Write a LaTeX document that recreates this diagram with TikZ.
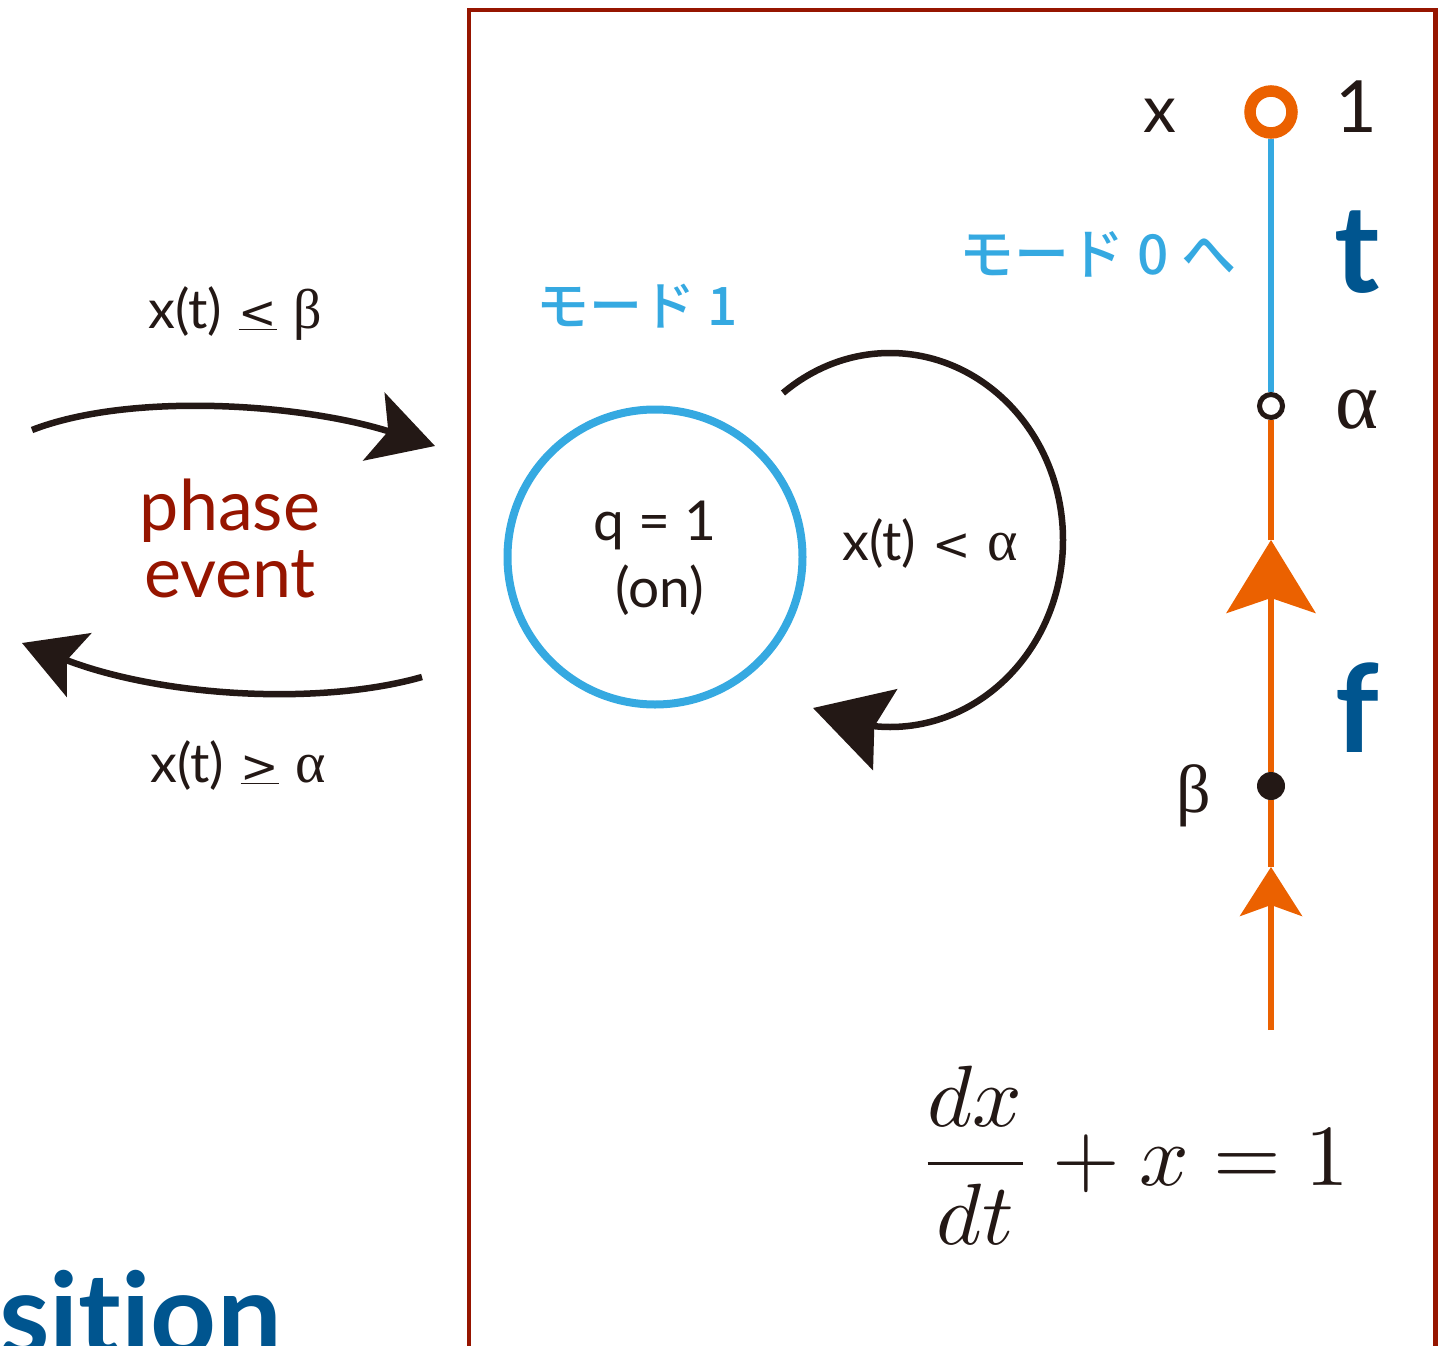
\documentclass[tikz,border=0pt]{standalone}
\usepackage{fontspec}
\setmainfont{Lato}[Ligatures=NoCommon]
\newfontfamily\cjk{Noto Sans CJK JP Medium}
\newfontfamily\tms{Liberation Serif}
\newfontfamily\dvs{DejaVu Sans}
\usetikzlibrary{arrows.meta}
\definecolor{ink}{HTML}{231815}
\definecolor{lblue}{HTML}{35A9E1}
\definecolor{dblue}{HTML}{00558F}
\definecolor{dred}{HTML}{961500}
\definecolor{orng}{HTML}{EB6100}
\newcommand{\fs}[1]{\fontsize{#1}{#1}\selectfont}
\newcommand{\uleq}{{\dvs\fs{46}\underline{<}}}
\newcommand{\ugeq}{{\dvs\fs{46}\underline{>}}}
\newcommand{\lessm}{{\dvs\fs{46}<}}
\begin{document}
\begin{tikzpicture}[x=1pt,y=-1pt,
  lbl/.style={inner sep=0pt,outer sep=0pt,anchor=base,text=ink},
  arw/.style={draw=ink,line width=6.5pt},
  orline/.style={draw=orng,line width=6pt},
  blline/.style={draw=lblue,line width=6pt},
  bigblue/.style={inner sep=0pt,anchor=base,text=dblue,font=\bfseries\fs{122}},
  jp/.style={inner sep=0pt,text=lblue,font=\cjk\fs{53}},
]
\useasboundingbox (0,0) rectangle (1449,1346);
\clip (0,0) rectangle (1449,1346);

% frame
\draw[dred,line width=4.5pt] (469,10) rectangle (1435.5,1420);

% bottom-left partial title
\node[inner sep=0pt,anchor=base east,text=dblue,font=\bfseries\fs{115}] (ttl) at (282,1355) {sition};

% left: transitions
\coordinate (ua) at (32,430);
\coordinate (ub) at (435,446);
\draw[arw,-{Stealth[length=64pt,width=71pt,inset=15pt]}] (ua) .. controls (130,392) and (300.6,403.4) .. (ub);
\coordinate (la) at (422,677);
\coordinate (lb) at (22,643);
\draw[arw,-{Stealth[length=61pt,width=68pt,inset=13pt]}] (la) .. controls (320,706) and (162,697) .. (lb);

\node[lbl,font=\fs{54}] (cup) at (235,328) {x(t)\hspace{0.3em}\uleq\hspace{0.3em}{\tms\fs{56}β}};
\node[lbl,font=\fs{54}] (clo) at (238,782) {x(t)\hspace{0.3em}\ugeq\hspace{0.3em}{\tms\fs{58}α}};
\node[lbl,text=dred,font=\fs{70}] (ph) at (230,530) {phase};
\node[lbl,text=dred,font=\fs{70}] (ev) at (230,597) {event};

% mode 1
\node[jp] (m1) at (637,306) {モード 1};
\node[circle,draw=lblue,line width=8pt,minimum size=295pt,inner sep=0pt] (q) at (655,557) {};
\node[lbl,font=\fs{55}] (q1) at (655,540) {q = 1};
\node[lbl,font=\fs{55}] (q2) at (660,607) {(on)};

% self loop
\coordinate (ls) at (783,393);
\coordinate (lt) at (813,708);
\draw[arw,-{Stealth[length=75pt,width=84pt,inset=11pt]}] (ls) .. controls (813.9,366.9) and (851.4,353) .. (890,353)
  .. controls (985.5,353) and (1063,436.7) .. (1063,540)
  .. controls (1063,643.3) and (985.5,727) .. (890,727)
  .. controls (860,727) and (848,718.5) .. (lt);
\node[lbl,font=\fs{54}] (lc) at (930,560) {x(t)\hspace{0.3em}\lessm\hspace{0.3em}{\tms\fs{58}α}};

% right axis
\node[circle,draw=orng,fill=white,line width=11.5pt,minimum size=42pt,inner sep=0pt] (o1) at (1271,112) {};
\node[circle,draw=ink,fill=white,line width=5pt,minimum size=23pt,inner sep=0pt] (oa) at (1271,406) {};
\node[circle,fill=ink,minimum size=28pt,inner sep=0pt] (ob) at (1271,786) {};
\coordinate (bot) at (1271,1030);
\coordinate (a1) at (1271,540);
\coordinate (a2) at (1271,867);
\draw[blline] (o1) -- (oa);
\draw[orline,-{Stealth[length=73pt,width=89pt,inset=15pt]}] (ob) -- (a1);
\draw[orline] (a1) -- (oa);
\draw[orline,-{Stealth[length=49pt,width=62pt,inset=11pt]}] (bot) -- (a2);
\draw[orline] (a2) -- (ob);

\node[jp,font=\cjk\fs{55}] (m0) at (1098,254) {モード 0 へ};
\node[lbl,font=\fs{66}] (lx) at (1160,132) {x};
\node[lbl,font=\fs{72}] (l1) at (1356,132) {1};
\node[bigblue] (lt1) at (1357,292) {t};
\node[lbl,font=\tms\fs{82}] (lal) at (1357,428) {α};
\node[bigblue] (lf) at (1357,752) {f};
\node[lbl,font=\tms\fs{68}] (lbe) at (1194,812) {β};

% equation
\node[inner sep=0pt,anchor=base west,text=ink] (eq) at (917,1185) {\scalebox{8.7}{$\displaystyle\frac{dx}{dt}+x=1$}};
\end{tikzpicture}
\end{document}
